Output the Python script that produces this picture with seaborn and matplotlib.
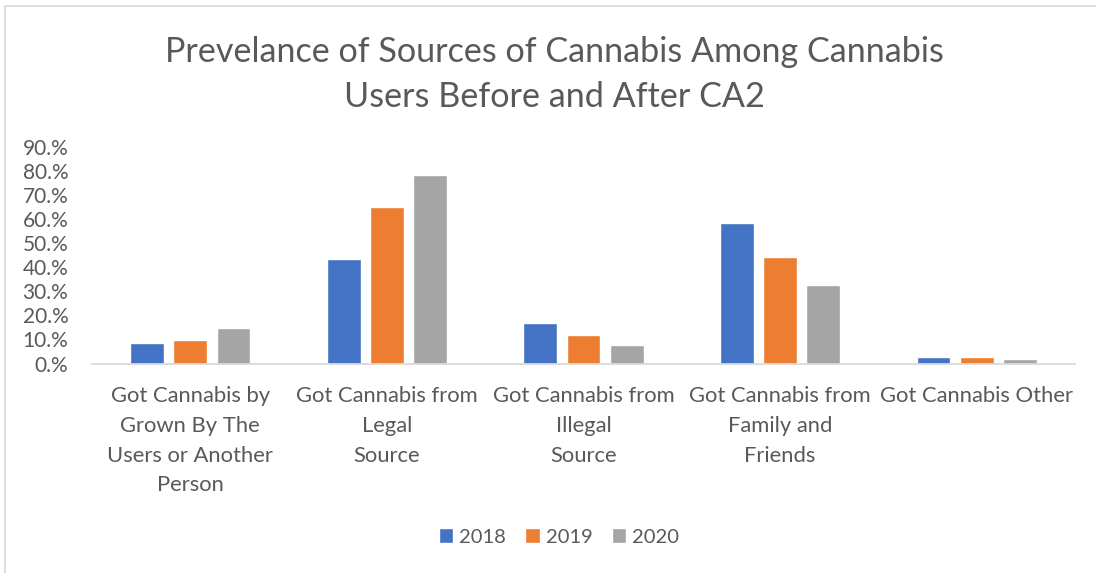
import matplotlib
matplotlib.use("Agg")
import matplotlib.pyplot as plt
from matplotlib.ticker import FuncFormatter, MultipleLocator
from matplotlib.patches import Rectangle
import seaborn as sns
import pandas as pd

categories = [
    "Got Cannabis by\nGrown By The\nUsers or Another\nPerson",
    "Got Cannabis from\nLegal\nSource",
    "Got Cannabis from\nIllegal\nSource",
    "Got Cannabis from\nFamily and\nFriends",
    "Got Cannabis Other",
]
years = ["2018", "2019", "2020"]
share_2018 = [0.086, 0.434, 0.167, 0.582, 0.028]
share_2019 = [0.098, 0.651, 0.118, 0.443, 0.028]
share_2020 = [0.146, 0.781, 0.077, 0.324, 0.017]
palette = ["#4472C4", "#ED7D31", "#A5A5A5"]

rows = []
for year, values in zip(years, [share_2018, share_2019, share_2020]):
    for cat, v in zip(categories, values):
        rows.append({"Source": cat, "Year": year, "Share": v})
df = pd.DataFrame(rows)

sns.set_theme(style="white")
plt.rcParams["font.family"] = ["Lato", "DejaVu Sans"]
text_color = "#595959"

fig = plt.figure(figsize=(10.96, 5.73), dpi=100)
ax = fig.add_axes([92 / 1096, 1 - 363.5 / 573, (1075 - 92) / 1096, (363.5 - 146.5) / 573])

sns.barplot(data=df, x="Source", y="Share", hue="Year", palette=palette,
            width=0.66, gap=0.22, saturation=1, ax=ax, legend=True)

ax.set_ylim(0, 0.9)
ax.set_xlim(-0.5, len(categories) - 0.5)
ax.yaxis.set_major_locator(MultipleLocator(0.1))
ax.yaxis.set_major_formatter(FuncFormatter(lambda v, _: f"{round(v * 100)}.%"))
ax.set_xlabel("")
ax.set_ylabel("")
ax.tick_params(axis="y", length=0, pad=17, labelsize=15, labelcolor=text_color)
ax.tick_params(axis="x", length=0, pad=16, labelsize=15.8, labelcolor=text_color)
for lbl in ax.get_xticklabels():
    lbl.set_linespacing(1.62)
    lbl.set_verticalalignment("top")

for side in ["top", "right", "left"]:
    ax.spines[side].set_visible(False)
ax.spines["bottom"].set_color("#D9D9D9")
ax.spines["bottom"].set_linewidth(1.3)

leg = ax.legend(loc="center", ncol=3, frameon=False, fontsize=14.5,
                handlelength=0.7, handleheight=0.7, handletextpad=0.3,
                columnspacing=0.95, labelcolor=text_color)
leg.set_bbox_to_anchor((559 / 1096, 1 - 537 / 573), transform=fig.transFigure)

fig.text(554 / 1096, 1 - 74.5 / 573,
         "Prevelance of Sources of Cannabis Among Cannabis\nUsers Before and After CA2",
         ha="center", va="center", fontsize=24.6, color=text_color, linespacing=1.48)

# chart frame
fig.patches.append(Rectangle((4.5 / 1096, -0.05), 1.2, (1 - 5.5 / 573) + 0.05,
                             transform=fig.transFigure, fill=False,
                             edgecolor="#D9D9D9", linewidth=1.3))

fig.savefig("out.png", dpi=100)
